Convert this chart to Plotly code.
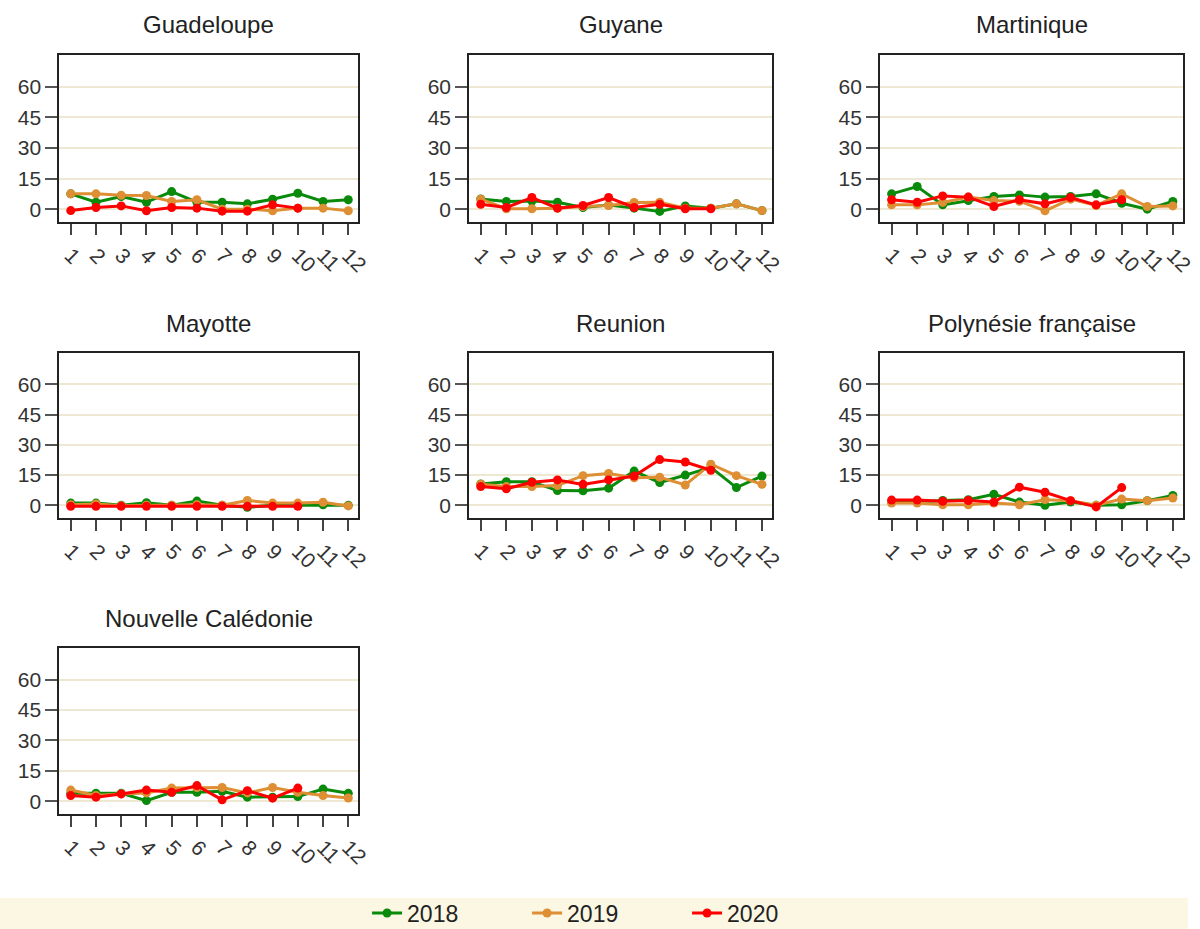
import plotly.graph_objects as go

# Months on the x axis
months = list(range(1, 13))
month_labels = [str(m) for m in months]
y_ticks = [0, 15, 30, 45, 60]

regions = ["Guadeloupe", "Guyane", "Martinique", "Mayotte", "Reunion",
           "Polynésie française", "Nouvelle Calédonie"]

# Monthly values per region and year (2020 stops at October)
guadeloupe_2018 = [7.5, 3.4, 6.2, 3.4, 8.6, 3.4, 3.4, 2.6, 4.9, 7.8, 3.8, 4.6]
guadeloupe_2019 = [7.5, 7.5, 6.8, 6.7, 3.8, 4.6, 0.0, 0.0, -0.8, 0.5, 0.5, -0.8]
guadeloupe_2020 = [-0.7, 0.8, 1.6, -0.8, 0.8, 0.5, -1.0, -1.0, 2.1, 0.5]

guyane_2018 = [5.0, 3.8, 4.0, 3.4, 0.8, 2.0, 0.5, -1.1, 1.6, 0.5, 2.6, -0.7]
guyane_2019 = [4.9, 0.2, 0.2, 0.5, 1.3, 1.8, 3.3, 3.4, 0.5, 0.5, 2.6, -0.7]
guyane_2020 = [2.4, 0.8, 5.7, 0.5, 1.8, 5.7, 0.8, 2.4, 0.2, 0.2]

martinique_2018 = [7.5, 11.1, 2.1, 4.2, 6.2, 7.0, 5.9, 6.2, 7.5, 2.9, 0.0, 3.8]
martinique_2019 = [2.1, 2.1, 3.3, 5.9, 4.2, 3.9, -0.8, 4.9, 1.8, 7.5, 1.3, 1.6]
martinique_2020 = [4.6, 3.4, 6.5, 5.9, 1.3, 4.6, 2.6, 5.7, 2.1, 4.6]

mayotte_2018 = [1.1, 1.1, 0.0, 1.3, 0.0, 2.1, 0.0, -1.0, 0.0, 0.0, 0.3, 0.0]
mayotte_2019 = [0.3, 0.7, -0.2, 0.0, 0.0, 0.3, 0.0, 2.4, 1.1, 1.1, 1.5, -0.3]
mayotte_2020 = [-0.5, -0.5, -0.5, -0.5, -0.5, -0.5, -0.5, -0.5, -0.5, -0.5]

reunion_2018 = [10.6, 11.7, 11.7, 7.3, 7.2, 8.5, 17.0, 11.3, 15.0, 18.8, 8.8, 14.5]
reunion_2019 = [10.4, 9.3, 9.3, 9.8, 14.7, 15.8, 13.7, 13.9, 10.1, 20.4, 14.7, 10.4]
reunion_2020 = [9.3, 8.2, 11.4, 12.6, 10.4, 12.6, 14.5, 22.7, 21.5, 17.4]

polynesie_2018 = [1.6, 1.6, 2.4, 2.8, 5.5, 1.6, 0.0, 1.6, 0.0, 0.3, 2.3, 4.9]
polynesie_2019 = [1.1, 1.1, 0.3, 0.3, 1.1, 0.3, 2.8, 2.3, 0.0, 3.1, 2.3, 3.6]
polynesie_2020 = [2.6, 2.6, 2.0, 2.4, 1.6, 9.0, 6.5, 2.3, -0.8, 8.8]

caledonie_2018 = [3.9, 3.9, 3.9, 0.3, 4.4, 4.4, 4.9, 2.0, 2.0, 2.3, 6.0, 3.9]
caledonie_2019 = [5.5, 2.8, 3.6, 4.1, 6.5, 6.8, 6.8, 4.1, 6.8, 4.4, 2.8, 1.6]
caledonie_2020 = [2.8, 2.0, 3.6, 5.5, 4.4, 7.7, 0.7, 5.2, 1.5, 6.5]

series = [
    (guadeloupe_2018, guadeloupe_2019, guadeloupe_2020),
    (guyane_2018, guyane_2019, guyane_2020),
    (martinique_2018, martinique_2019, martinique_2020),
    (mayotte_2018, mayotte_2019, mayotte_2020),
    (reunion_2018, reunion_2019, reunion_2020),
    (polynesie_2018, polynesie_2019, polynesie_2020),
    (caledonie_2018, caledonie_2019, caledonie_2020),
]

years = ["2018", "2019", "2020"]
colors = ["#0A8A0A", "#DE8E33", "#FF0000"]

W, H = 1200, 935
# panel boxes in pixels: (left, right), (top, bottom)
col_px = [(60, 362), (474, 780), (889, 1195)]
row_px = [(55, 222), (353, 518), (648, 814)]

fig = go.Figure()
FONT = "Liberation Sans, Arial, sans-serif"

for i, (name, data) in enumerate(zip(regions, series)):
    r, c = divmod(i, 3)
    ax = "" if i == 0 else str(i + 1)
    for j, (yr, col, vals) in enumerate(zip(years, colors, data)):
        fig.add_trace(go.Scatter(
            x=months[:len(vals)], y=vals, name=yr,
            mode="lines+markers",
            line=dict(color=col, width=3),
            marker=dict(color=col, size=9),
            xaxis="x" + ax, yaxis="y" + ax,
            legendgroup=yr, showlegend=(i == 0),
        ))
    (x0, x1), (y0, y1) = col_px[c], row_px[r]
    fig.layout["xaxis" + ax] = dict(
        domain=[x0 / W, x1 / W], anchor="y" + ax,
        range=[0.55, 12.4], tickmode="array", tickvals=months, ticktext=month_labels,
        tickangle=45, ticks="outside", ticklen=11, tickwidth=2, tickcolor="#444",
        showline=True, mirror=True, linecolor="#222", linewidth=2,
        showgrid=False, zeroline=False,
        tickfont=dict(family=FONT, size=21, color="#333"),
    )
    fig.layout["yaxis" + ax] = dict(
        domain=[1 - y1 / H, 1 - y0 / H], anchor="x" + ax,
        range=[-6.3, 75.6], tickmode="array", tickvals=y_ticks,
        ticks="outside", ticklen=12, tickwidth=2, tickcolor="#555",
        showline=True, mirror=True, linecolor="#222", linewidth=2,
        showgrid=True, gridcolor="#EEE8D3", gridwidth=2, zeroline=False,
        tickfont=dict(family=FONT, size=21, color="#333"),
    )
    fig.add_annotation(
        text=name, xref="paper", yref="paper",
        x=(x0 + x1) / 2 / W, y=1 - (y0 - 30) / H,
        showarrow=False, xanchor="center", yanchor="middle",
        font=dict(family=FONT, size=24, color="#222"),
    )

# legend band along the bottom
fig.add_shape(type="rect", xref="paper", yref="paper",
              x0=0, x1=1, y0=0, y1=1 - 898 / H,
              fillcolor="#FBF7E3", line=dict(width=0), layer="below")

fig.update_layout(
    width=W, height=H,
    margin=dict(l=0, r=0, t=0, b=0),
    paper_bgcolor="white", plot_bgcolor="white",
    showlegend=True,
    legend=dict(orientation="h", x=0.511, xanchor="center",
                y=1 - 913 / H, yanchor="middle",
                bgcolor="rgba(0,0,0,0)",
                font=dict(family=FONT, size=23, color="#222"),
                entrywidth=115, entrywidthmode="pixels"),
)

fig.write_html("out.html")
